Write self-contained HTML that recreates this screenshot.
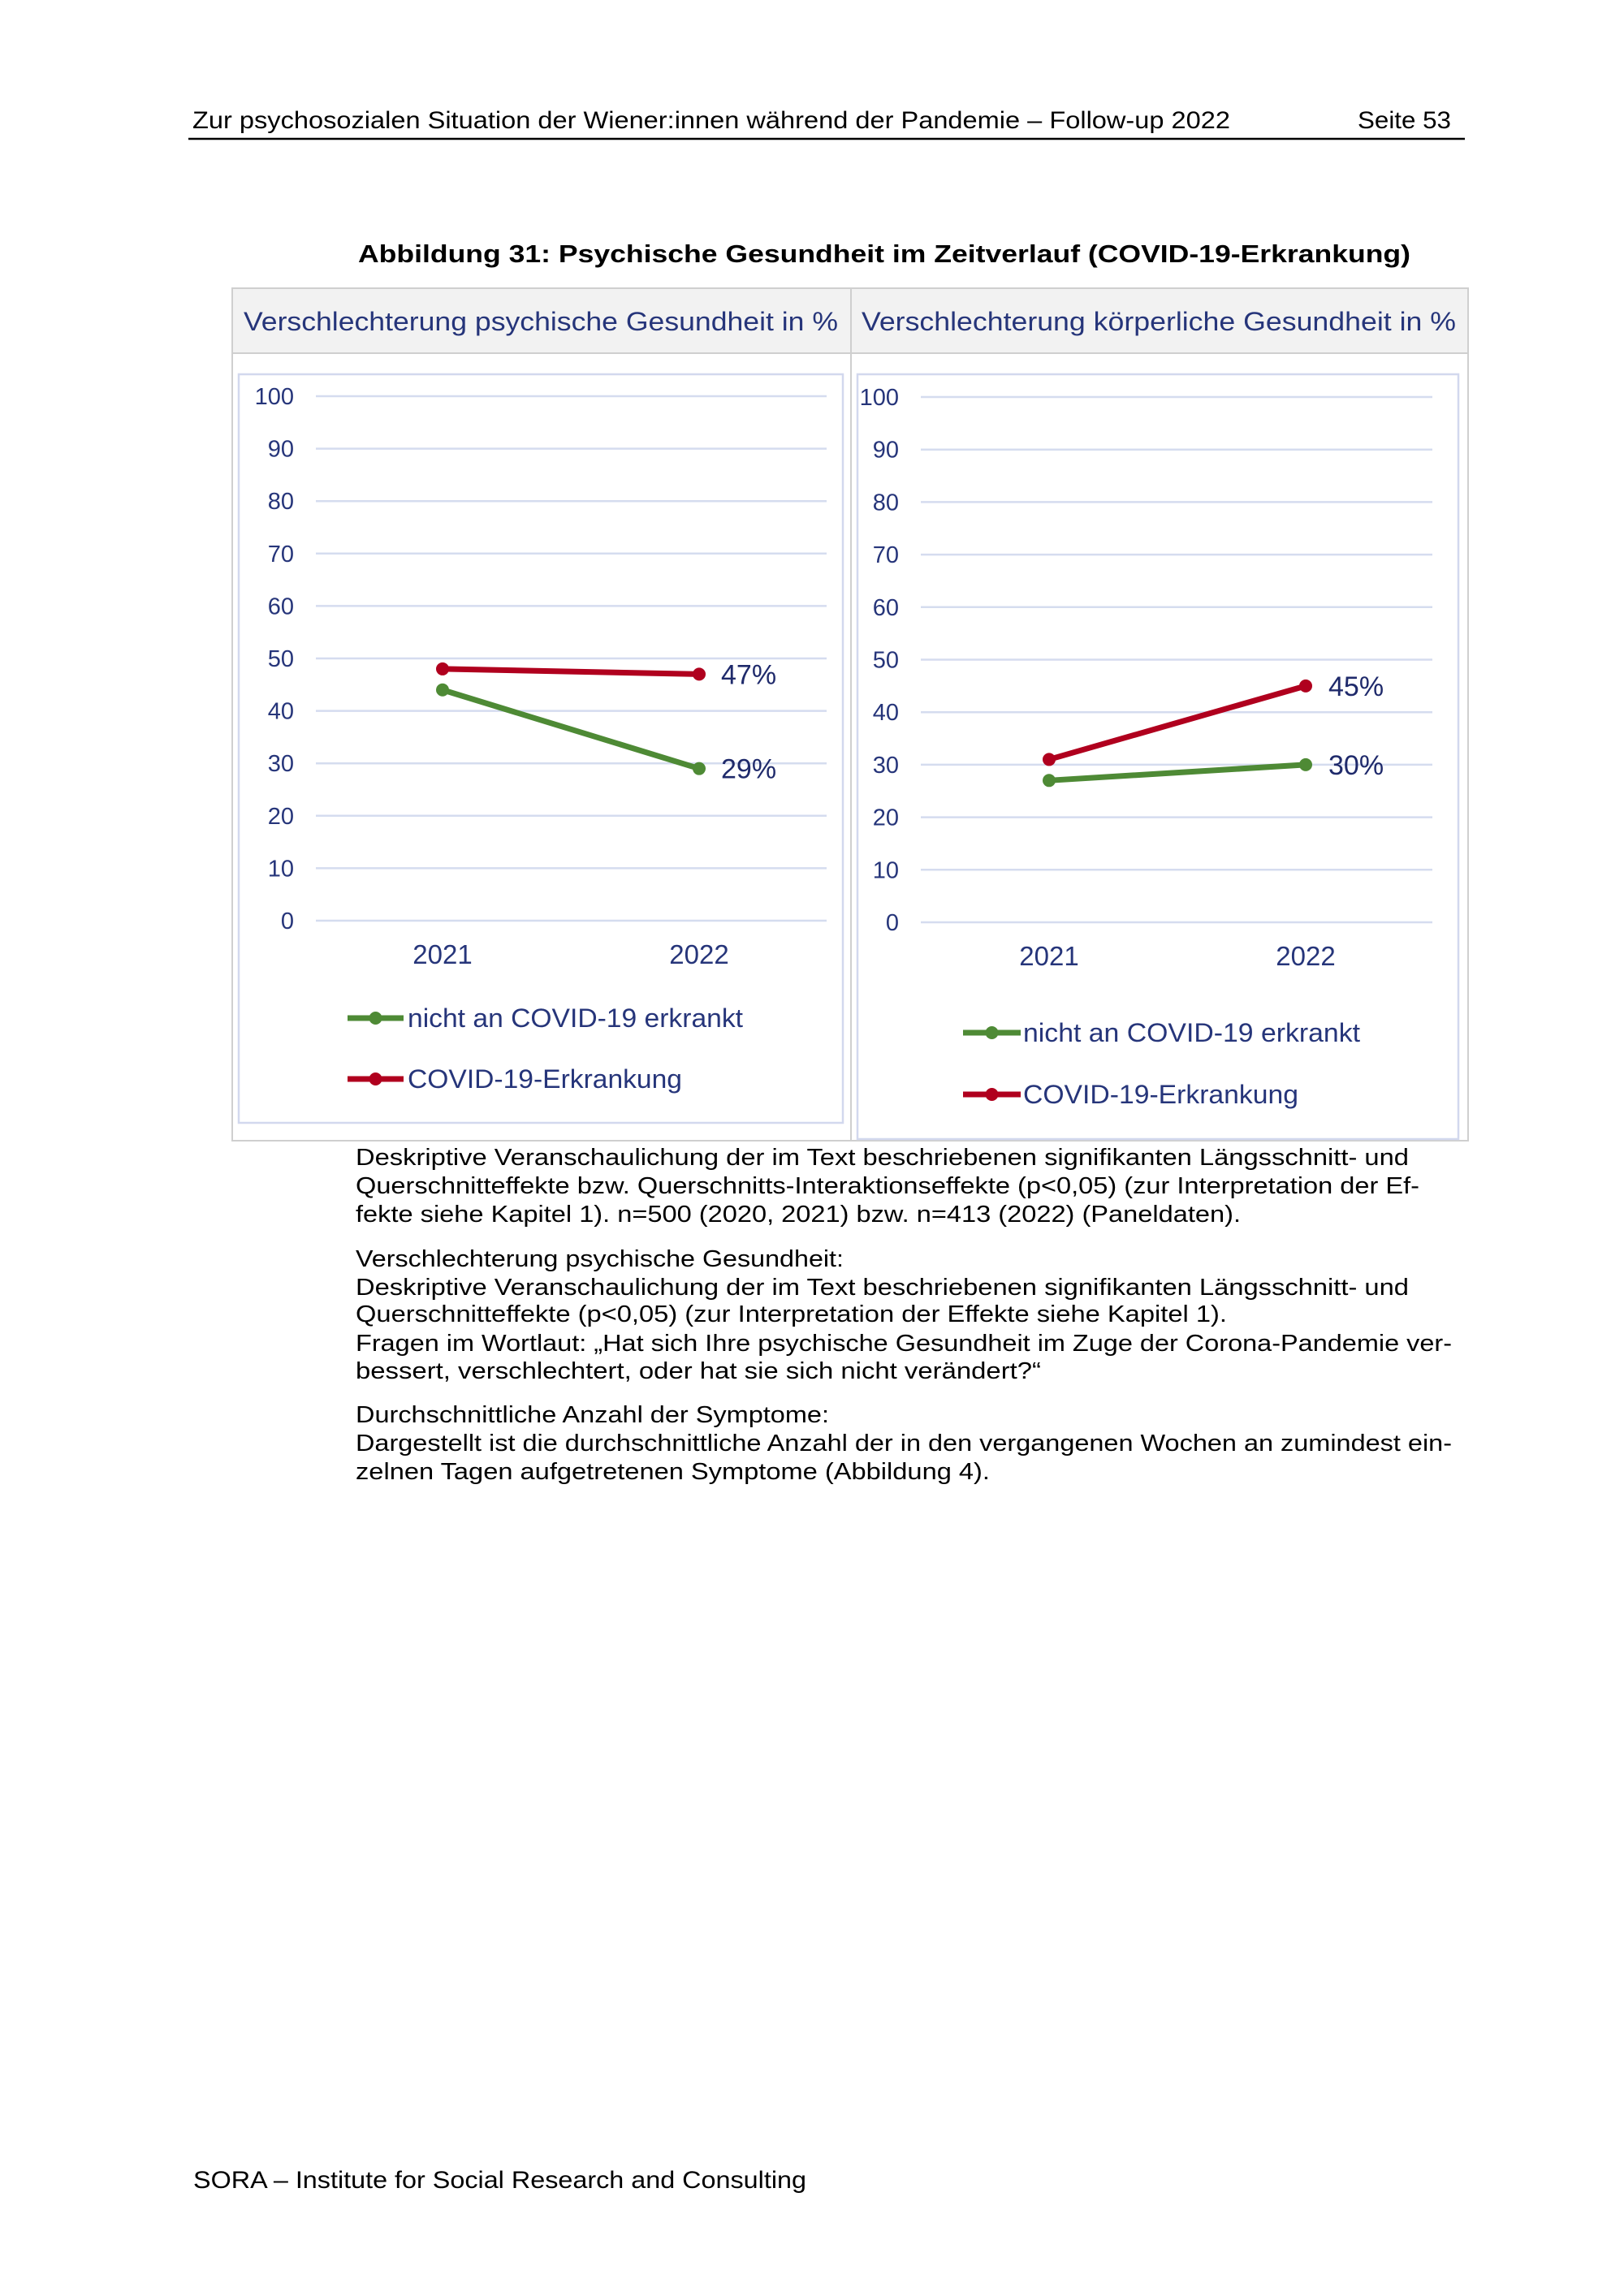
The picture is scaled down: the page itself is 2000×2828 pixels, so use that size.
<!DOCTYPE html>
<html><head><meta charset="utf-8"><style>
html,body{margin:0;padding:0;background:#fff}
svg{display:block}
text{font-family:"Liberation Sans",sans-serif}
</style></head><body>
<svg id="page" width="2000" height="2828" viewBox="0 0 2000 2828" xmlns="http://www.w3.org/2000/svg">
<text x="237" y="158" font-size="30" fill="#000" textLength="1278" lengthAdjust="spacingAndGlyphs">Zur psychosozialen Situation der Wiener:innen während der Pandemie – Follow-up 2022</text>
<text x="1787" y="158" font-size="30" fill="#000" text-anchor="end" textLength="115" lengthAdjust="spacingAndGlyphs">Seite 53</text>
<line x1="232" y1="171" x2="1804" y2="171" stroke="#000" stroke-width="2.5"/>
<text x="441" y="323" font-size="31" font-weight="bold" fill="#000" textLength="1296" lengthAdjust="spacingAndGlyphs">Abbildung 31: Psychische Gesundheit im Zeitverlauf (COVID-19-Erkrankung)</text>

<g>
<rect x="286" y="355" width="1522" height="1050" fill="#fff" stroke="#cfcfcf" stroke-width="2"/>
<rect x="287" y="356" width="1520" height="79" fill="#f2f2f2"/>
<line x1="286" y1="435" x2="1808" y2="435" stroke="#cfcfcf" stroke-width="2"/>
<line x1="1048" y1="355" x2="1048" y2="1405" stroke="#cfcfcf" stroke-width="2"/>
</g>
<text x="300" y="407" font-size="32" fill="#26357a" textLength="732" lengthAdjust="spacingAndGlyphs">Verschlechterung psychische Gesundheit in %</text>
<text x="1061" y="407" font-size="32" fill="#26357a" textLength="732" lengthAdjust="spacingAndGlyphs">Verschlechterung körperliche Gesundheit in %</text>
<rect x="294" y="461" width="744" height="922" fill="#fff" stroke="#d2d8ee" stroke-width="2.5"/>
<rect x="1056" y="461" width="740" height="942" fill="#fff" stroke="#d2d8ee" stroke-width="2.5"/>
<g id="charts"></g>

<g font-size="29" fill="#000">
<text x="438" y="1435" textLength="1297" lengthAdjust="spacingAndGlyphs">Deskriptive Veranschaulichung der im Text beschriebenen signifikanten Längsschnitt- und</text>
<text x="438" y="1470" textLength="1310" lengthAdjust="spacingAndGlyphs">Querschnitteffekte bzw. Querschnitts-Interaktionseffekte (p&lt;0,05) (zur Interpretation der Ef-</text>
<text x="438" y="1505" textLength="1090" lengthAdjust="spacingAndGlyphs">fekte siehe Kapitel 1). n=500 (2020, 2021) bzw. n=413 (2022) (Paneldaten).</text>
<text x="438" y="1560" textLength="601" lengthAdjust="spacingAndGlyphs">Verschlechterung psychische Gesundheit:</text>
<text x="438" y="1595" textLength="1297" lengthAdjust="spacingAndGlyphs">Deskriptive Veranschaulichung der im Text beschriebenen signifikanten Längsschnitt- und</text>
<text x="438" y="1628" textLength="1073" lengthAdjust="spacingAndGlyphs">Querschnitteffekte (p&lt;0,05) (zur Interpretation der Effekte siehe Kapitel 1).</text>
<text x="438" y="1664" textLength="1350" lengthAdjust="spacingAndGlyphs">Fragen im Wortlaut: „Hat sich Ihre psychische Gesundheit im Zuge der Corona-Pandemie ver-</text>
<text x="438" y="1698" textLength="844" lengthAdjust="spacingAndGlyphs">bessert, verschlechtert, oder hat sie sich nicht verändert?“</text>
<text x="438" y="1752" textLength="583" lengthAdjust="spacingAndGlyphs">Durchschnittliche Anzahl der Symptome:</text>
<text x="438" y="1787" textLength="1350" lengthAdjust="spacingAndGlyphs">Dargestellt ist die durchschnittliche Anzahl der in den vergangenen Wochen an zumindest ein-</text>
<text x="438" y="1822" textLength="781" lengthAdjust="spacingAndGlyphs">zelnen Tagen aufgetretenen Symptome (Abbildung 4).</text>
</g>
<text x="238" y="2695" font-size="30" fill="#000" textLength="755" lengthAdjust="spacingAndGlyphs">SORA – Institute for Social Research and Consulting</text>
</svg>
<script>
const categories = ["2021", "2022"];
const yTicks = [0, 10, 20, 30, 40, 50, 60, 70, 80, 90, 100];
const seriesNames = ["nicht an COVID-19 erkrankt", "COVID-19-Erkrankung"];
const seriesColors = ["#4e8a35", "#b0001e"];
const psychGreen = [44, 29];
const psychRed = [48, 47];
const koerpGreen = [27, 30];
const koerpRed = [31, 45];

const NS = "http://www.w3.org/2000/svg";
const root = document.getElementById("charts");
function mk(tag, attrs, parent, txt) {
  const e = document.createElementNS(NS, tag);
  for (const k in attrs) e.setAttribute(k, attrs[k]);
  if (txt !== undefined) e.textContent = txt;
  parent.appendChild(e);
  return e;
}
const panels = [
  {key: "psych", gx0: 389, gx1: 1018, y100: 488, y0: 1134, tickX: 362, cx: [545, 861], labelX: 888, yearY: 1187,
   legX0: 428, legX1: 497, legTextX: 502, legY: [1254, 1329], legW: [413, 338], data: [psychGreen, psychRed]},
  {key: "koerp", gx0: 1134, gx1: 1764, y100: 489, y0: 1136, tickX: 1107, cx: [1292, 1608], labelX: 1636, yearY: 1189,
   legX0: 1186, legX1: 1257, legTextX: 1260, legY: [1272, 1348], legW: [415, 339], data: [koerpGreen, koerpRed]}
];
panels.forEach(p => {
  const g = mk("g", {}, root);
  
  
  const yS = v => p.y0 + (p.y100 - p.y0) * v / 100;
  yTicks.forEach(t => {
    const l = mk("line", {x1: p.gx0, x2: p.gx1, y1: yS(t), y2: yS(t), stroke: "#d5dcef", "stroke-width": 2.5}, g);
    
    
    const tx = mk("text", {x: p.tickX, y: yS(t) + 10, "font-size": 29, fill: "#26357a", "text-anchor": "end"}, g, String(t));
    
    
  });
  categories.forEach((c, i) => {
    const tx = mk("text", {x: p.cx[i], y: p.yearY, "font-size": 33, fill: "#26357a", "text-anchor": "middle"}, g, c);
    
    
  });
  p.data.forEach((vals, si) => {
    const col = seriesColors[si];
    const pts = vals.map((v, i) => p.cx[i] + "," + yS(v)).join(" ");
    const pl = mk("polyline", {points: pts, fill: "none", stroke: col, "stroke-width": 7, "stroke-linecap": "round"}, g);
    
    
    vals.forEach((v, i) => {
      const c = mk("circle", {cx: p.cx[i], cy: yS(v), r: 8, fill: col}, g);
      
      
    });
    const last = vals[vals.length - 1];
    const lb = mk("text", {x: p.labelX, y: yS(last) + 12, "font-size": 34, fill: "#1f2a6b"}, g, last + "%");
    
    
    const ly = p.legY[si];
    const ll = mk("line", {x1: p.legX0, x2: p.legX1, y1: ly, y2: ly, stroke: col, "stroke-width": 7}, g);
    
    
    const lc = mk("circle", {cx: (p.legX0 + p.legX1) / 2, cy: ly, r: 8, fill: col}, g);
    
    
    const lt = mk("text", {x: p.legTextX, y: ly + 11, "font-size": 32, fill: "#26357a", textLength: p.legW[si], lengthAdjust: "spacingAndGlyphs"}, g, seriesNames[si]);
    
    
  });
});
</script>
</body></html>
